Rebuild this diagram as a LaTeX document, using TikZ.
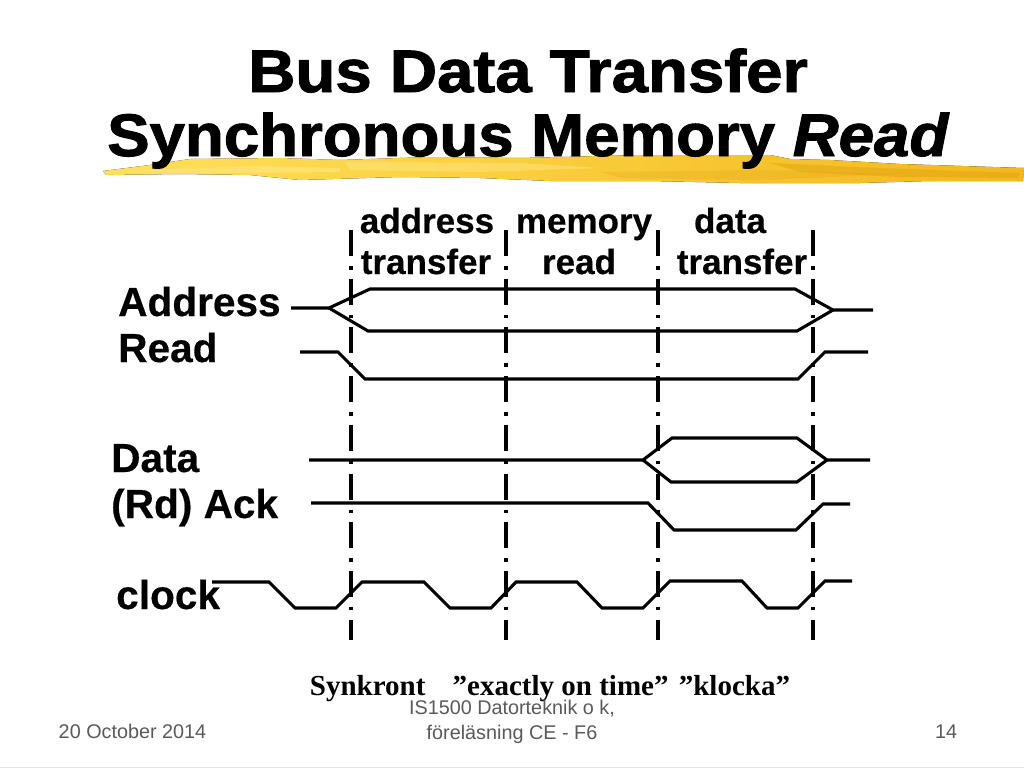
\documentclass[tikz,border=0pt]{standalone}
\usepackage{fontspec}
\setmainfont{Liberation Sans}
\newfontfamily\serifbold{Liberation Serif}
\definecolor{brushlo}{HTML}{FFE05A}
\definecolor{brushhi}{HTML}{F4B81C}
\definecolor{brushdk}{HTML}{DFA512}
\definecolor{brushlt}{HTML}{FFE680}
\definecolor{foot}{HTML}{5A5A5A}
\definecolor{rule}{HTML}{E4E4E4}
\begin{document}
\begin{tikzpicture}[
  x=1pt,y=-1pt,
  ttl/.style={anchor=base west,inner sep=0pt,font=\fontsize{60}{60}\selectfont\bfseries\addfontfeature{FakeBold=1.6}},
  sig/.style={anchor=base west,inner sep=0pt,font=\fontsize{40.6}{40.6}\selectfont\bfseries\addfontfeature{FakeBold=.4}},
  phase/.style={anchor=base,inner sep=0pt,font=\fontsize{35}{35}\selectfont\bfseries\addfontfeature{FakeBold=.4}},
  footer/.style={anchor=base,inner sep=0pt,text=foot,font=\fontsize{19.8}{19.8}\selectfont},
  wave/.style={line width=3.1pt,line join=miter,draw=black},
  tick/.style={line width=3.1pt,draw=black,dash pattern=on 26pt off 10pt on 3.5pt off 9.2pt}
]
\useasboundingbox (0,0) rectangle (1024,768);
\fill[white] (0,0) rectangle (1024,768);
\draw[rule,line width=1pt] (0,767) -- (1024,767);

\fill[left color=brushlo,right color=brushhi] (103,171) -- (150,165) -- (190,159) -- (280,158) -- (340,160) -- (430,157) -- (520,158) -- (640,155) -- (770,155) -- (790,159) -- (830,160) -- (900,164) -- (1024,168) -- (1023,181) -- (930,181) -- (860,183) -- (740,183) -- (650,181) -- (550,181) -- (480,178) -- (400,177) -- (300,180) -- (250,175) -- (180,174) -- (106,175) -- cycle;
\fill[brushdk,opacity=.5] (770,163) -- (880,168) -- (1020,173) -- (1018,178) -- (900,177) -- (800,172) -- cycle;
\fill[brushdk,opacity=.25] (600,172) -- (760,170) -- (900,174) -- (760,180) -- (620,178) -- cycle;
\fill[brushlt,opacity=.6] (112,172) -- (250,166) -- (340,168) -- (340,172) -- (230,173) -- cycle;
\fill[brushlt,opacity=.5] (345,162) -- (520,163) -- (600,168) -- (480,172) -- (350,170) -- cycle;

\node[ttl,xscale=1.09] (t1) at (248,92) {Bus Data Transfer};
\node[ttl,xscale=1.06] (t2) at (107,156) {Synchronous Memory \textit{Read}};

\node[phase] (p1) at (427,233) {address};
\node[phase] (p2) at (426,274) {transfer};
\node[phase] (p3) at (584,233) {memory};
\node[phase] (p4) at (579,274) {read};
\node[phase] (p5) at (730,233) {data};
\node[phase] (p6) at (742,274) {transfer};

\node[sig] (s1) at (118,316) {Address};
\node[sig] (s2) at (118,362) {Read};
\node[sig] (s3) at (111,472) {Data};
\node[sig] (s4) at (111,518) {(Rd) Ack};
\node[sig] (s5) at (116,609) {clock};

\draw[tick] (351,230) -- (351,640);
\draw[tick] (506,230) -- (506,640);
\draw[tick] (658,230) -- (658,640);
\draw[tick] (813,230) -- (813,640);

\draw[wave] (291,308) -- (329,308) -- (370,289) -- (795,289) -- (833,310) -- (873,310);
\draw[wave] (329,308) -- (368,331) -- (797,331) -- (833,310);
\draw[wave] (300,352) -- (338,352) -- (365,379) -- (798,379) -- (825,352) -- (868,352);
\draw[wave] (309,460) -- (643,460) -- (672,438) -- (797,438) -- (827,460) -- (870,460);
\draw[wave] (643,460) -- (671,482) -- (797,482) -- (827,460);
\draw[wave] (311,503) -- (648,503) -- (674,530) -- (796,530) -- (823,504) -- (850,504);
\draw[wave] (212,582) -- (269,582) -- (295,608) -- (336,608) -- (362,582) -- (424,582) -- (450,608) -- (491,608) -- (516,582) -- (577,582) -- (602,608) -- (643,608) -- (670,581) -- (742,581) -- (767,608) -- (798,608) -- (825,581) -- (852,581);

\node[anchor=base,inner sep=0pt,font=\serifbold\bfseries\fontsize{29}{29}\selectfont] (n) at (550,695) {Synkront\hspace{20pt} ”exactly on time”\hspace{3pt} ”klocka”};
\node[footer] (f1) at (132.5,738) {20 October 2014};
\node[footer] (f2) at (512,714) {IS1500 Datorteknik o k,};
\node[footer] (f3) at (512,739) {föreläsning CE - F6};
\node[footer] (f4) at (946,738) {14};
\end{tikzpicture}
\end{document}
